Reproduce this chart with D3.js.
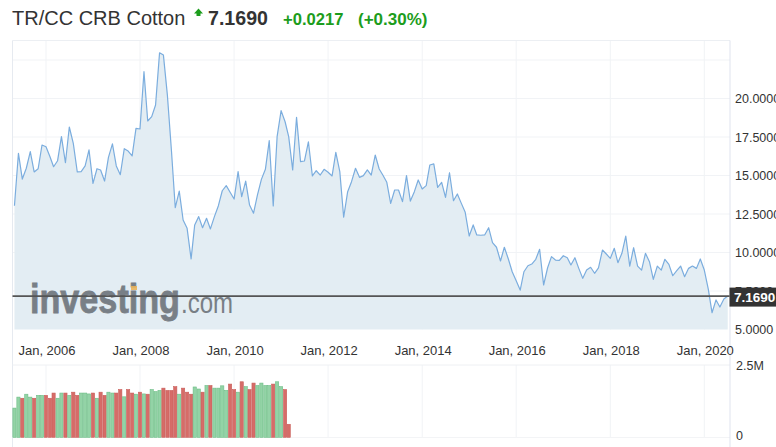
<!DOCTYPE html>
<html><head><meta charset="utf-8">
<script src="https://cdn.jsdelivr.net/npm/d3@7/dist/d3.min.js"></script>
<style>
html,body{margin:0;padding:0;background:#fff;overflow:hidden;}
svg{display:block;font-family:"Liberation Sans",Arial,sans-serif;}
</style></head>
<body><svg id="c" width="776" height="447"></svg>
<script>
// ---- data ----
const title = "TR/CC CRB Cotton";
const lastPrice = "7.1690";
const change = "+0.0217";
const changePct = "(+0.30%)";
const firstMonth = "2005-05";
const prices = [
 13.04,16.44,14.77,15.47,16.55,15.23,15.44,16.98,
 16.87,16.22,15.57,15.96,17.52,15.83,18.15,17.09,15.23,15.25,15.62,16.66,
 14.49,15.44,15.36,14.64,16.18,17.05,15.62,15.05,16.74,16.59,16.27,18.06,
 18.02,21.74,18.54,18.82,19.58,22.97,22.82,20.2,16.66,12.91,13.99,12.11,
 11.57,9.58,11.79,12.33,11.61,12.22,11.53,12.33,13.04,14.01,14.34,13.91,
 13.47,15.25,13.63,14.64,13.08,12.55,13.73,14.75,15.40,17.26,13.02,17.52,
 19.21,18.49,17.52,15.36,18.78,15.90,15.94,17.19,14.97,15.31,15.03,15.40,
 15.21,14.97,16.50,15.25,12.29,13.95,14.60,15.47,14.88,14.99,15.36,15.03,
 16.33,15.42,15.03,14.56,13.19,14.06,14.06,13.30,14.99,13.34,13.95,14.71,
 14.12,14.34,15.68,15.75,14.23,14.56,13.58,15.18,13.36,13.80,13.19,12.61,
 11.07,11.79,11.14,11.12,11.14,11.61,10.64,10.34,9.45,10.34,9.58,8.75,
 8.17,7.56,8.75,9.14,9.25,9.56,10.21,7.89,9.01,9.73,9.51,9.49,
 9.79,9.66,9.19,9.66,8.97,8.32,8.86,9.04,8.65,9.00,10.16,9.90,
 9.62,10.27,9.34,9.95,11.07,9.12,10.31,9.12,8.86,9.95,9.40,8.26,
 9.12,8.86,9.56,9.23,8.49,8.82,9.12,8.43,8.97,9.12,8.97,9.58,
 8.86,7.62,6.09,6.92,6.46,6.98,7.169
];
const volumes = [ // millions
 1.01,1.39,1.35,1.49,1.39,1.35,1.45,1.45,1.45,1.35,
 1.53,1.35,1.53,1.53,1.45,1.56,1.45,1.53,1.53,1.50,
 1.53,1.35,1.56,1.45,1.56,1.53,1.53,1.65,1.40,1.65,
 1.53,1.49,1.56,1.50,1.49,1.65,1.58,1.62,1.70,1.62,
 1.62,1.75,1.49,1.70,1.56,1.49,1.74,1.67,1.56,1.79,
 1.79,1.70,1.70,1.78,1.62,1.84,1.65,1.56,1.92,1.75,
 1.65,1.875,1.79,1.875,1.79,1.79,1.84,1.92,1.75,1.65,0.45
];
const priceTicks = [5, 7.5, 10, 12.5, 15, 17.5, 20, 22.5];
const priceTickLabels = ["5.0000","7.5000","10.0000","12.5000","15.0000","17.5000","20.0000",""];
const yearTicks = [2006, 2008, 2010, 2012, 2014, 2016, 2018, 2020];
const volTickLabels = ["0", "2.5M"];

// ---- build ----
const svg = d3.select("#c");
const parse = d3.timeParse("%Y-%m");
const start = parse(firstMonth);
const dates = prices.map((_, i) => d3.timeMonth.offset(start, i));
const series = prices.map((v, i) => ({date: dates[i], v}));
const vols = volumes.map((v, i) => ({date: dates[i], v, up: i === 0 ? true : prices[i] >= prices[i-1]}));

const x = d3.scaleTime().domain([new Date(2006,0,1), new Date(2020,0,1)]).range([46, 704.3]);
const y = d3.scaleLinear().domain([5, 23.75]).range([329.5, 40.75]);
const yv = d3.scaleLinear().domain([0, 2.5]).range([437.3, 365]);

const L = 12.5, R = 730;

// title
const t = svg.append("g");
t.append("text").attr("x", 12).attr("y", 25).attr("font-size", 20).attr("fill", "#333").text(title);
t.append("path").attr("d", "M194,13.5 L198.5,8.5 L203,13.5 L200.5,13.5 L200.5,16 L196.5,16 L196.5,13.5 Z").attr("fill", "#1c9d1c");
t.append("text").attr("x", 208).attr("y", 25).attr("font-size", 19.6).attr("font-weight", "bold").attr("fill", "#333").text(lastPrice);
t.append("text").attr("x", 283).attr("y", 25).attr("font-size", 16.6).attr("font-weight", "bold").attr("fill", "#1c9d1c").text(change);
t.append("text").attr("x", 358).attr("y", 25).attr("font-size", 17).attr("font-weight", "bold").attr("fill", "#1c9d1c").text(changePct);

// frame / grid
const grid = svg.append("g").attr("stroke", "#f1f3f6").attr("stroke-width", 1);
priceTicks.filter(v => v > 5).forEach(v => grid.append("line").attr("x1", L).attr("x2", R).attr("y1", y(v)).attr("y2", y(v)));
yearTicks.forEach(yr => {
  const xx = x(new Date(yr,0,1));
  grid.append("line").attr("x1", xx).attr("x2", xx).attr("y1", 41).attr("y2", 329.5);
  grid.append("line").attr("x1", xx).attr("x2", xx).attr("y1", 365).attr("y2", 437.3);
});
svg.append("line").attr("x1", L).attr("x2", R).attr("y1", 40.5).attr("y2", 40.5).attr("stroke", "#eceff3");
svg.append("line").attr("x1", L).attr("x2", L).attr("y1", 40.5).attr("y2", 447).attr("stroke", "#e6eaf0");
svg.append("line").attr("x1", L).attr("x2", R).attr("y1", 365).attr("y2", 365).attr("stroke", "#eef0f3");
svg.append("line").attr("x1", L).attr("x2", R).attr("y1", 437.5).attr("y2", 437.5).attr("stroke", "#f3f4f6");

// area + line
const area = d3.area().x(d => x(d.date)).y0(y(5)).y1(d => y(d.v));
const line = d3.line().x(d => x(d.date)).y(d => y(d.v));
svg.append("path").datum(series).attr("d", area).attr("fill", "#e3edf3");
svg.append("path").datum(series).attr("d", line).attr("fill", "none").attr("stroke", "#7badde").attr("stroke-width", 1.2).attr("stroke-linejoin", "round");

// watermark
const wm = svg.append("g").attr("fill", "#6a7077").attr("opacity", 0.88);
wm.append("text").attr("x", 30).attr("y", 313).attr("font-size", 41).attr("font-weight", "bold")
  .attr("stroke", "#6a7077").attr("stroke-width", 0.8)
  .attr("textLength", 150).attr("lengthAdjust", "spacingAndGlyphs").text("investing");
wm.append("text").attr("x", 181).attr("y", 313).attr("font-size", 30)
  .attr("textLength", 52).attr("lengthAdjust", "spacingAndGlyphs").text(".com");
svg.append("rect").attr("x", 131).attr("y", 286).attr("width", 6).attr("height", 4).attr("fill", "#e8b25a").attr("opacity", 0.9);

// last price line
svg.append("line").attr("x1", L).attr("x2", R).attr("y1", y(7.169)).attr("y2", y(7.169)).attr("stroke", "#555").attr("stroke-width", 1.6);

// volume bars
svg.append("g").selectAll("rect").data(vols).join("rect")
  .attr("x", d => x(d.date) - 1.6).attr("width", 3.2)
  .attr("y", d => yv(d.v)).attr("height", d => yv(0) - yv(d.v))
  .attr("fill", d => d.up ? "#93d3a6" : "#d66c68")
  .attr("stroke", d => d.up ? "#6dbd86" : "#c95e5a").attr("stroke-width", 0.6);

// right axis
svg.append("line").attr("x1", R).attr("x2", R).attr("y1", 40.5).attr("y2", 447).attr("stroke", "#dfe3ee");
const ya = svg.append("g").attr("font-size", 12.5).attr("fill", "#333");
priceTicks.forEach((v, i) => {
  if (priceTickLabels[i]) ya.append("text").attr("x", 735).attr("y", y(v) + 4.5).text(priceTickLabels[i]);
});
ya.append("text").attr("x", 736).attr("y", yv(2.5) + 4.5).text(volTickLabels[1]);
ya.append("text").attr("x", 736).attr("y", yv(0) + 3).text(volTickLabels[0]);

// price label box
svg.append("rect").attr("x", 729.5).attr("y", y(7.169) - 8.5).attr("width", 47).attr("height", 19).attr("fill", "#333");
svg.append("text").attr("x", 734).attr("y", y(7.169) + 5.5).attr("font-size", 13.5).attr("font-weight", "bold").attr("fill", "#fff").text(lastPrice);

// x axis labels
const xa = svg.append("g").attr("font-size", 13).attr("fill", "#333").attr("text-anchor", "middle");
yearTicks.forEach(yr => {
  xa.append("text").attr("x", x(new Date(yr,0,1)) + 1).attr("y", 355).text(d3.timeFormat("%b, %Y")(new Date(yr,0,1)));
});
</script></body></html>
